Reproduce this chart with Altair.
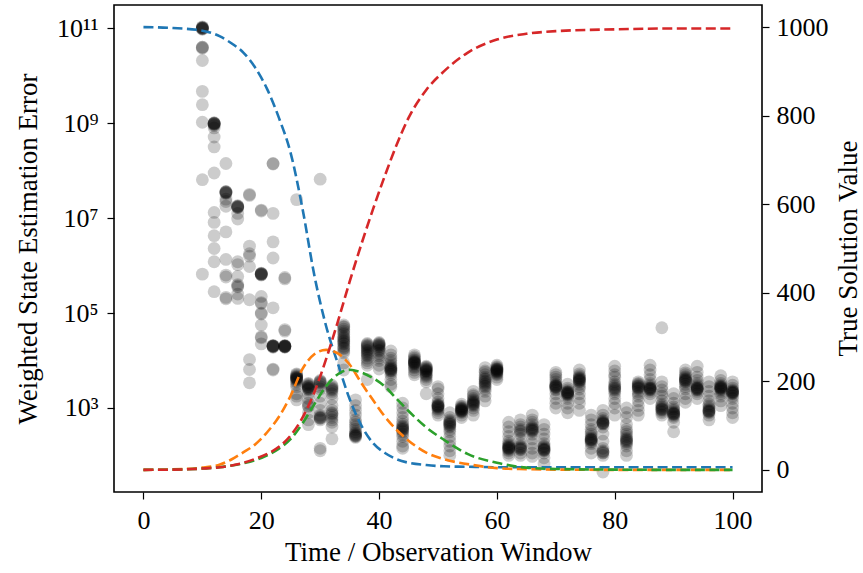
import altair as alt
import pandas as pd

# ---------------- data ----------------
scatter_times = [10, 12, 14, 16, 18, 20, 22, 24, 26, 28, 30, 32, 34, 36, 38, 40,
                 42, 44, 46, 48, 50, 52, 54, 56, 58, 60, 62, 64, 66, 68, 70, 72,
                 74, 76, 78, 80, 82, 84, 86, 88, 90, 92, 94, 96, 98, 100]

# log10 of the weighted state estimation error, one list per time column
scatter_log10_errors = [
    [11.02, 11.01, 11.0, 11.0, 10.99, 11.03, 11.0, 10.98, 10.6, 10.58, 10.6, 10.32, 9.67, 9.39, 9.02, 7.81, 5.82],
    [9.0, 8.99, 8.98, 9.0, 8.97, 8.99, 9.01, 8.95, 8.9, 8.71, 8.5, 7.95, 7.12, 6.91, 6.63, 6.36, 6.08, 5.45],
    [8.15, 7.56, 7.55, 7.54, 7.53, 7.55, 7.52, 7.4, 7.35, 7.25, 6.71, 6.13, 5.8, 5.76, 5.33, 5.3],
    [7.26, 7.25, 7.24, 7.23, 7.22, 7.24, 7.1, 6.98, 6.08, 6.02, 5.77, 5.6, 5.57, 5.55, 5.4, 5.31],
    [7.5, 7.48, 6.41, 6.25, 6.2, 5.98, 5.28, 4.02, 3.81, 3.53],
    [7.17, 7.15, 5.84, 5.83, 5.82, 5.81, 5.8, 5.82, 5.83, 5.35, 5.22, 5.2, 5.0, 4.98, 4.75, 4.5, 4.48, 4.35],
    [8.15, 8.14, 7.1, 6.5, 6.16, 5.11, 4.32, 4.3, 4.31, 4.29, 4.3, 4.3, 4.28, 4.31, 3.82, 3.8],
    [5.75, 5.72, 4.65, 4.62, 4.31, 4.3, 4.29, 4.3, 4.3, 4.28, 4.32, 4.3, 4.29],
    [7.39, 3.72, 3.7, 3.68, 3.66, 3.65, 3.64, 3.63, 3.62, 3.61, 3.6, 3.58, 3.55, 3.5, 3.45, 3.3, 3.25, 3.17],
    [3.52, 3.5, 3.48, 3.46, 3.45, 3.44, 3.42, 3.41, 3.4, 3.38, 3.3, 3.2, 3.1, 3.05, 3.03, 2.9, 2.75, 2.65],
    [7.82, 3.58, 3.56, 3.55, 3.53, 3.5, 3.45, 3.4, 3.25, 3.1, 2.95, 2.85, 2.82, 2.8, 2.79, 2.78, 2.75, 2.15, 2.1],
    [3.48, 3.45, 3.42, 3.4, 3.38, 3.35, 3.3, 3.2, 3.05, 2.95, 2.9, 2.88, 2.85, 2.8, 2.75, 2.7, 2.6, 2.35],
    [4.75, 4.72, 4.7, 4.66, 4.62, 4.58, 4.55, 4.5, 4.48, 4.45, 4.42, 4.4, 4.37, 4.35, 4.3, 4.27, 4.25, 4.2, 4.16, 3.95, 3.8],
    [3.17, 3.05, 2.95, 2.85, 2.75, 2.7, 2.65, 2.6, 2.55, 2.5, 2.47, 2.45, 2.43, 2.42, 2.41, 2.4, 2.38],
    [4.36, 4.34, 4.32, 4.3, 4.28, 4.25, 4.22, 4.2, 4.17, 4.15, 4.12, 4.1, 4.05, 4.0, 3.95, 3.9, 3.6],
    [4.38, 4.36, 4.35, 4.33, 4.32, 4.3, 4.28, 4.25, 4.22, 4.2, 4.15, 4.1, 4.05, 4.0, 3.9, 3.82],
    [4.2, 4.12, 4.05, 4.0, 3.95, 3.9, 3.87, 3.85, 3.83, 3.82, 3.8, 3.79, 3.78, 3.75, 3.7, 3.6, 3.5, 3.45],
    [3.1, 3.0, 2.9, 2.8, 2.72, 2.66, 2.62, 2.6, 2.58, 2.56, 2.55, 2.53, 2.5, 2.45, 2.4, 2.3, 2.2, 2.15],
    [4.12, 4.08, 4.05, 4.02, 4.0, 3.98, 3.97, 3.96, 3.95, 3.94, 3.93, 3.9, 3.87, 3.85, 3.8, 3.75, 3.7],
    [3.88, 3.86, 3.85, 3.83, 3.82, 3.8, 3.79, 3.78, 3.77, 3.75, 3.72, 3.7, 3.68, 3.65, 3.6, 3.55, 3.3],
    [3.45, 3.4, 3.3, 3.2, 3.12, 3.08, 3.06, 3.05, 3.04, 3.03, 3.02, 3.0, 2.98, 2.95, 2.9, 2.85],
    [2.9, 2.8, 2.75, 2.72, 2.7, 2.68, 2.66, 2.65, 2.62, 2.6, 2.55, 2.5, 2.4, 2.3, 2.2, 2.1, 2.0],
    [3.08, 3.04, 3.02, 3.0, 2.99, 2.98, 2.97, 2.96, 2.95, 2.94, 2.93, 2.92, 2.9, 2.85, 2.8],
    [3.35, 3.28, 3.25, 3.2, 3.17, 3.15, 3.13, 3.11, 3.1, 3.08, 3.07, 3.05, 3.0, 2.95, 2.85],
    [3.85, 3.78, 3.75, 3.7, 3.65, 3.62, 3.6, 3.57, 3.55, 3.52, 3.5, 3.47, 3.45, 3.4, 3.35, 3.25, 3.15],
    [3.9, 3.87, 3.85, 3.83, 3.82, 3.81, 3.8, 3.79, 3.78, 3.77, 3.76, 3.74, 3.72, 3.7, 3.65, 3.6],
    [2.7, 2.6, 2.5, 2.4, 2.3, 2.25, 2.22, 2.2, 2.18, 2.17, 2.16, 2.15, 2.14, 2.12, 2.1, 2.05, 2.0],
    [2.75, 2.65, 2.6, 2.55, 2.52, 2.5, 2.45, 2.35, 2.25, 2.2, 2.18, 2.16, 2.15, 2.13, 2.12, 2.05, 2.0],
    [2.85, 2.75, 2.7, 2.65, 2.6, 2.58, 2.56, 2.55, 2.53, 2.52, 2.5, 2.45, 2.35, 2.25, 2.15, 2.05, 1.98],
    [2.65, 2.55, 2.45, 2.35, 2.25, 2.2, 2.18, 2.16, 2.14, 2.13, 2.12, 2.11, 2.1, 2.05, 1.95, 1.82],
    [3.75, 3.7, 3.65, 3.6, 3.55, 3.5, 3.48, 3.47, 3.46, 3.45, 3.44, 3.43, 3.4, 3.38, 3.3, 3.2, 3.1, 3.0],
    [3.5, 3.42, 3.38, 3.35, 3.34, 3.33, 3.32, 3.31, 3.3, 3.29, 3.28, 3.25, 3.2, 3.1, 3.0, 2.9],
    [3.8, 3.72, 3.68, 3.65, 3.63, 3.62, 3.6, 3.59, 3.58, 3.56, 3.55, 3.5, 3.45, 3.4, 3.3, 3.2, 3.1, 2.95],
    [2.85, 2.75, 2.65, 2.55, 2.5, 2.45, 2.4, 2.37, 2.35, 2.34, 2.33, 2.32, 2.3, 2.28, 2.25, 2.15, 2.05],
    [2.95, 2.85, 2.78, 2.74, 2.72, 2.7, 2.69, 2.68, 2.67, 2.66, 2.6, 2.45, 2.3, 2.15, 2.1, 2.08, 2.06, 2.05, 2.0, 1.65],
    [3.88, 3.78, 3.7, 3.65, 3.55, 3.5, 3.47, 3.44, 3.42, 3.4, 3.38, 3.35, 3.3, 3.2, 3.1, 3.0, 2.85],
    [3.0, 2.9, 2.8, 2.65, 2.55, 2.5, 2.45, 2.4, 2.36, 2.34, 2.32, 2.3, 2.28, 2.25, 2.2, 2.1, 2.0],
    [3.55, 3.52, 3.5, 3.48, 3.46, 3.45, 3.43, 3.42, 3.4, 3.35, 3.3, 3.25, 3.15, 3.05, 2.95, 2.85],
    [3.9, 3.8, 3.7, 3.6, 3.52, 3.48, 3.45, 3.43, 3.42, 3.41, 3.4, 3.39, 3.38, 3.35, 3.3, 3.2],
    [4.69, 3.55, 3.45, 3.38, 3.3, 3.25, 3.15, 3.08, 3.05, 3.02, 3.0, 2.98, 2.97, 2.96, 2.93, 2.9, 2.85],
    [3.3, 3.2, 3.1, 3.02, 2.98, 2.95, 2.92, 2.9, 2.89, 2.88, 2.87, 2.86, 2.83, 2.8, 2.7, 2.5],
    [3.8, 3.74, 3.7, 3.66, 3.64, 3.62, 3.6, 3.59, 3.58, 3.56, 3.55, 3.5, 3.45, 3.4, 3.3, 3.2, 3.12],
    [3.88, 3.75, 3.65, 3.58, 3.52, 3.48, 3.45, 3.43, 3.42, 3.41, 3.4, 3.39, 3.38, 3.35, 3.3, 3.2],
    [3.55, 3.45, 3.35, 3.25, 3.15, 3.08, 3.04, 3.0, 2.97, 2.95, 2.94, 2.93, 2.92, 2.9, 2.85, 2.75],
    [3.68, 3.58, 3.52, 3.48, 3.46, 3.45, 3.44, 3.43, 3.42, 3.41, 3.4, 3.38, 3.35, 3.3, 3.25, 3.15, 3.05],
    [3.55, 3.48, 3.42, 3.38, 3.36, 3.35, 3.34, 3.33, 3.32, 3.31, 3.3, 3.25, 3.2, 3.1, 3.0, 2.9, 2.8],
]

curve_t = [0, 5, 10, 13, 15, 17, 19, 21, 23, 25, 27, 29, 31, 33, 35, 37, 39, 41,
           43, 45, 48, 51, 55, 60, 65, 70, 80, 90, 100]
curve_blue = [1000, 998, 992, 979, 963, 942, 908, 860, 795, 715, 590, 440, 325, 240,
              160, 100, 60, 38, 24, 16, 11, 8, 7, 6, 6, 6, 6, 6, 6]
curve_orange = [0, 1, 5, 12, 24, 40, 58, 85, 120, 168, 228, 261, 271, 263, 238, 196,
                157, 120, 90, 66, 39, 24, 13, 4, 1.5, 0.5, 0, 0, 0]
curve_green = [0, 0.5, 3, 6, 10, 15, 22, 33, 48, 70, 105, 148, 189, 216, 226, 220,
               207, 188, 160, 133, 96, 68, 36, 16, 5, 2, 0.5, 0, 0]
curve_red = [0, 0.5, 3, 6, 10, 16, 25, 36, 52, 78, 118, 175, 250, 335, 425, 510,
             590, 665, 735, 795, 858, 900, 942, 972, 985, 991, 995, 997, 997]

x_ticks = [0, 20, 40, 60, 80, 100]
left_ticks = [1e3, 1e5, 1e7, 1e9, 1e11]
right_ticks = [0, 200, 400, 600, 800, 1000]
right_title = ["True Solution Value"]

# ---------------- tables ----------------
rows = []
for t, vals in zip(scatter_times, scatter_log10_errors):
    for v in vals:
        rows.append({"t": t, "err": 10 ** v})
pts = pd.DataFrame(rows)

FONT = "Liberation Serif"
FS = 26
TFS = 27
W, H = 648, 487

x_enc = alt.X(
    "t:Q",
    scale=alt.Scale(domain=[-5, 105], nice=False, zero=False),
    axis=alt.Axis(values=x_ticks, title="Time / Observation Window", titleY=68,
                  titleBaseline="alphabetic", labelPadding=8, tickSize=7),
)

points = alt.Chart(pts).mark_circle(size=165, color="black", opacity=0.2).encode(
    x=x_enc,
    y=alt.Y(
        "err:Q",
        scale=alt.Scale(type="log", domain=[10 ** 1.23, 10 ** 11.49], nice=False, zero=False),
        axis=alt.Axis(
            orient="left", values=left_ticks, title="Weighted State Estimation Error",
            labelExpr="datum.value >= 1e10 ? '10¹¹' : datum.value >= 1e8 ? '10⁹' : datum.value >= 1e6 ? '10⁷' : datum.value >= 1e4 ? '10⁵' : '10³'",
            titleX=-78, titleAngle=270, titleBaseline="alphabetic", labelPadding=9, tickSize=7,
        ),
    ),
)

right_y = alt.Y(
    "v:Q",
    scale=alt.Scale(domain=[-50, 1050], nice=False, zero=False),
    axis=alt.Axis(orient="right", values=right_ticks, format="d", title=None,
                  labelPadding=7, tickSize=7),
)


def curve(vals, color):
    df = pd.DataFrame({"t": curve_t, "v": vals})
    return alt.Chart(df).mark_line(
        color=color, strokeWidth=2.6, strokeDash=[10, 4.5], interpolate="monotone"
    ).encode(x=x_enc, y=right_y)


lines = alt.layer(
    curve(curve_blue, "#1f77b4"),
    curve(curve_orange, "#ff7f0e"),
    curve(curve_green, "#2ca02c"),
    curve(curve_red, "#d62728"),
)

title_right = alt.Chart(pd.DataFrame({"label": right_title})).mark_text(
    angle=270, baseline="alphabetic", align="center", font=FONT, fontSize=TFS,
    color="#000000",
).encode(text="label:N", x=alt.value(W + 95), y=alt.value(H / 2))

chart = (
    alt.layer(points, lines, title_right)
    .resolve_scale(y="independent")
    .properties(
        width=W,
        height=H,
        autosize=alt.AutoSizeParams(type="none"),
        padding={"left": 114, "top": 5, "right": 101, "bottom": 81},
        background="white",
    )
    .configure_view(stroke="black", strokeWidth=1.6)
    .configure_axis(
        grid=False, domain=False, labelFont=FONT, titleFont=FONT, labelFontSize=FS,
        titleFontSize=TFS, titleFontWeight="normal", labelColor="black",
        titleColor="black", tickColor="black", tickWidth=1.2,
    )
)

chart.save("out.html", embed_options={"renderer": "svg", "actions": False})
